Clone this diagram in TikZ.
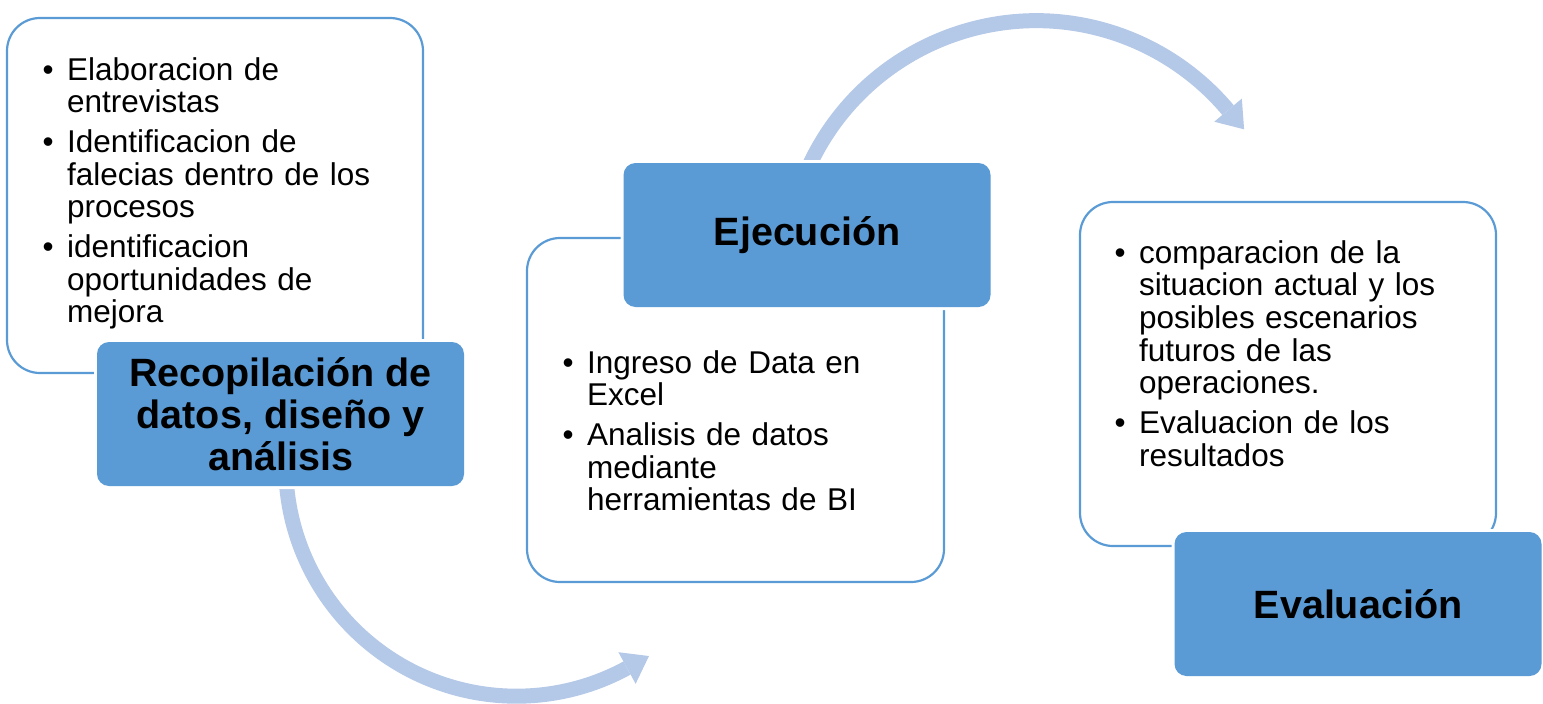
\documentclass[tikz,border=0pt]{standalone}
\usepackage{fontspec}
\setmainfont{Liberation Sans}
\usetikzlibrary{arrows.meta}
\definecolor{boxblue}{RGB}{91,155,213}
\definecolor{arrowblue}{RGB}{180,200,231}
\newcommand\bfirst{\llap{\textbullet\hspace{13.5pt}}}
\newcommand\bitem{\par\noindent\llap{\textbullet\hspace{13.5pt}}}
\begin{document}
\begin{tikzpicture}[x=1pt,y=-1pt,
  panel/.style={draw=boxblue, line width=2.2pt, fill=white, rounded corners=33pt,
    inner sep=0pt, outer sep=0pt},
  head/.style={preaction={draw=white, line width=6pt}, fill=boxblue, rounded corners=12pt,
    minimum width=367pt, minimum height=144pt, inner sep=0pt, outer sep=0pt,
    align=center, font=\fontsize{39.5}{42}\selectfont\bfseries},
  bul/.style={anchor=base west, inner sep=0pt, text width=360pt, align=left,
    font=\fontsize{31.5}{32.7}\selectfont},
  flow/.style={draw=arrowblue, line width=15pt,
    -{Triangle[length=25pt,width=36pt,line width=0pt]}}
]
\useasboundingbox (0,0) rectangle (1543,704);

% white panels
\node[panel, minimum width=416pt, minimum height=355pt] (w1) at (215,195.5) {};
\node[panel, minimum width=417pt, minimum height=344pt] (w2) at (735.5,410) {};
\node[panel, minimum width=416pt, minimum height=344pt] (w3) at (1288,374) {};

% bullet texts
\node[bul] (t1) at (67,80) {\setlength{\parskip}{7pt}%
  \bfirst Elaboracion de\\entrevistas
  \bitem Identificacion de\\falecias dentro de los\\procesos
  \bitem identificacion\\oportunidades de\\mejora};
\node[bul] (t2) at (587,373) {\setlength{\parskip}{7pt}%
  \bfirst Ingreso de Data en\\Excel
  \bitem Analisis de datos\\mediante\\herramientas de BI};
\node[bul] (t3) at (1139,263) {\setlength{\parskip}{7pt}%
  \bfirst comparacion de la\\situacion actual y los\\posibles escenarios\\futuros de las\\operaciones.
  \bitem Evaluacion de los\\resultados};

% curved arrows
\coordinate (a1s) at (286.3,481.5);
\coordinate (a2s) at (807.6,169.2);
\draw[flow] (a1s) arc[start angle=176, end angle=61.4, radius=230.8] -- ++(21.95,-11.98);
\draw[flow] (a2s) arc[start angle=204, end angle=320, radius=250.3] -- ++(16.1,19.2);

% blue heading boxes
\node[head] (rec) at (280.5,414) {Recopilación de\\datos, diseño y\\análisis};
\node[head] (eje) at (807,235) {Ejecución};
\node[head] (eva) at (1358,604) {Evaluación};
\end{tikzpicture}
\end{document}
